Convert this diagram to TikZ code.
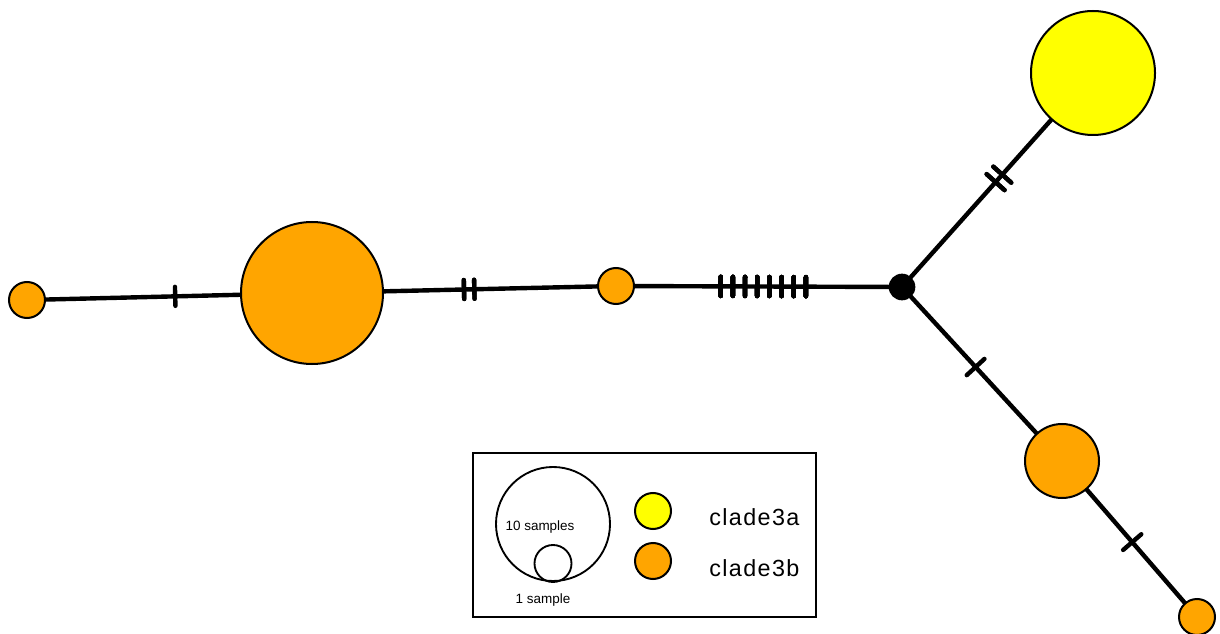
\documentclass[tikz,border=0pt]{standalone}
\usepackage{fontspec}
\setmainfont{Liberation Sans}
\usetikzlibrary{decorations.markings,backgrounds}
\definecolor{cyel}{HTML}{FFFF00}
\definecolor{corg}{HTML}{FFA500}
\tikzset{
  blob/.style={circle, draw=black, line width=1.5pt, inner sep=0pt, minimum size=#1*1.5pt},
  edge/.style={line width=3.3pt, black},
  tk/.style={line width=3.3pt, line cap=round},
  hmark/.style={postaction={decorate}, decoration={markings, mark=at position #1 with {\draw[tk] (0,-9.5) -- (0,9.5);}}},
  dmark/.style={postaction={decorate}, decoration={markings, mark=at position #1 with {\draw[tk] (0,-12) -- (0,12);}}},
  lbl/.style={font=\fontsize{17.5}{20}\selectfont\addfontfeatures{LetterSpace=6}, anchor=west, inner sep=0pt},
  slbl/.style={font=\fontsize{10.1}{12}\selectfont, inner sep=0pt}
}
\begin{document}
\begin{tikzpicture}[x=0.75pt,y=-0.75pt]
\useasboundingbox (0,0) rectangle (1220,634);
% nodes
\node[blob=18, fill=corg] (n1) at (27,300) {};
\node[blob=71, fill=corg] (n2) at (312,293) {};
\node[blob=18, fill=corg] (n3) at (616,286) {};
\node[circle, fill=black, inner sep=0pt, minimum size=20pt] (j) at (902,287) {};
\node[blob=62, fill=cyel] (n4) at (1093,73) {};
\node[blob=37, fill=corg] (n5) at (1062,461) {};
\node[blob=18, fill=corg] (n6) at (1197,617) {};
% edges
\begin{scope}[on background layer]
\draw[edge, hmark=0.52] (n1.center) -- (n2.center);
\draw[edge, hmark=0.50, hmark=0.534] (n2.center) -- (n3.center);
\draw[edge, hmark=0.366, hmark=0.4086, hmark=0.4511, hmark=0.4937, hmark=0.5363, hmark=0.5789, hmark=0.6214, hmark=0.664] (n3.center) -- (j.center);
\draw[edge, dmark=0.49, dmark=0.525] (j.center) -- (n4.center);
\draw[edge, dmark=0.46] (j.center) -- (n5.center);
\draw[edge, dmark=0.52] (n5.center) -- (n6.center);
\end{scope}
% legend
\node[draw, line width=1.5pt, minimum width=343*0.75pt, minimum height=164*0.75pt, inner sep=0pt] (leg) at (644.5,535) {};
\node[blob=57, line width=1.4pt] (l10) at (553,524) {};
\node[blob=18.5, line width=1.4pt] (l1) at (553,563.5) {};
\node[slbl] (t10) at (540,527) {10 samples};
\node[slbl] (t1) at (543,600) {1 sample};
\node[blob=18, fill=cyel] (ly) at (653,511) {};
\node[blob=18, fill=corg] (lo) at (653,561) {};
\node[lbl] (ta) at (709,517) {clade3a};
\node[lbl] (tb) at (709,568) {clade3b};
\end{tikzpicture}
\end{document}
